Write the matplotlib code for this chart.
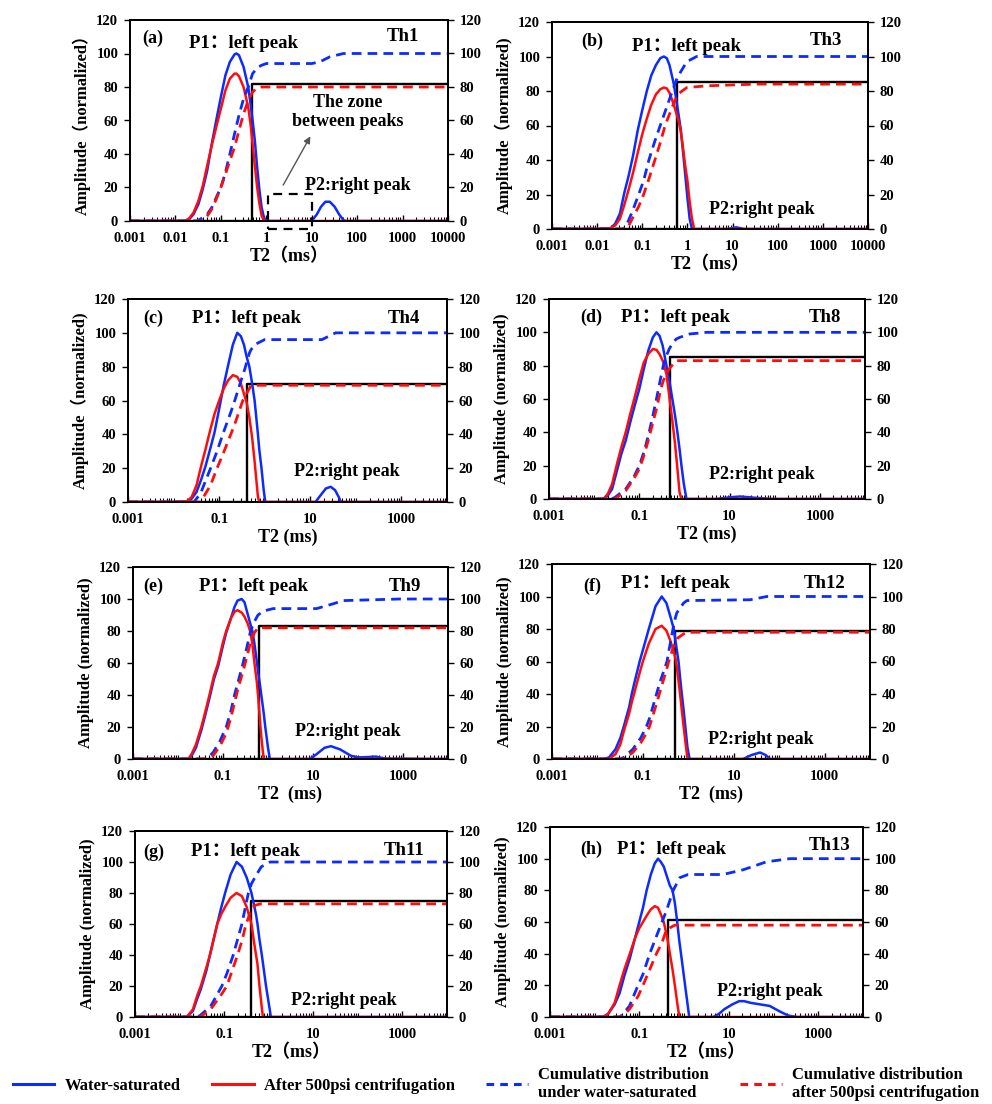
import matplotlib
matplotlib.use("Agg")
import matplotlib.pyplot as plt
from matplotlib.patches import Rectangle
from matplotlib.lines import Line2D
from matplotlib.ticker import FixedLocator, LogLocator, NullFormatter

plt.rcParams['font.family'] = ['Liberation Serif', 'Noto Sans CJK SC']
plt.rcParams['font.weight'] = 'bold'
plt.rcParams['axes.labelweight'] = 'bold'
plt.rcParams['xtick.labelsize'] = 10.5
plt.rcParams['ytick.labelsize'] = 10.5

BLUE = '#0b2bff'
RED = '#ff0d0d'

# ---- data: T2 (ms) and normalized amplitudes ----
# (a) Th1
A_T2 = [0.001, 0.01, 0.016, 0.02, 0.025, 0.032, 0.04, 0.05, 0.063, 0.079, 0.1, 0.126, 0.158, 0.2, 0.22,
        0.25, 0.316, 0.4, 0.45, 0.5, 0.56, 0.63, 0.71, 0.79, 0.89, 1.0,
        10, 13, 16, 20, 25, 32, 40, 50, 56, 10000]
A_WS = [0, 0, 0, 1, 4, 10, 19, 30, 46, 60, 74, 87, 95, 99.5, 100,
        99, 92, 80, 70, 60, 48, 32, 18, 8, 2, 0,
        0, 4, 8.5, 11.5, 11.5, 8.5, 4, 0.5, 0, 0]
A_CF = [0, 0, 0, 1.5, 5, 12, 21, 33, 45, 56, 67, 78, 85, 88, 88,
        86.5, 80, 68, 58, 46, 33, 20, 10, 3, 0.5, 0,
        0, 0, 0, 0, 0, 0, 0, 0, 0, 0]
A_CUM_T2 = [0.001, 0.03, 0.04, 0.05, 0.063, 0.079, 0.1, 0.126, 0.158, 0.2, 0.25, 0.316, 0.4, 0.5, 0.63, 0.79,
            1.0, 10, 15, 25, 50, 10000]
A_CUM_WS = [0, 0, 2, 4, 8, 14, 20, 29, 40, 52, 63, 73, 80, 88, 91.5, 93, 94, 94, 95, 98, 100, 100]
A_CUM_CF = [0, 0, 0, 3, 7, 13, 20, 28, 36, 44, 54, 64, 72, 77, 79.5, 80, 80, 80, 80, 80, 80, 80]

# (b) Th3
B_T2 = [0.001, 0.01, 0.02, 0.025, 0.032, 0.04, 0.05, 0.063, 0.079, 0.1, 0.126, 0.158, 0.2, 0.25, 0.3,
        0.35, 0.4, 0.5, 0.63, 0.71, 0.79, 0.89, 1.0, 1.12, 1.26, 1.41, 8, 12, 18, 10000]
B_WS = [0, 0, 0.5, 3, 9, 21, 31, 43, 57, 69, 80, 89, 95, 99, 100,
        99, 95, 84, 67, 58, 46, 32, 18, 6, 0, 0, 0, 1, 0, 0]
B_CF = [0, 0, 0.5, 2, 6, 14, 23, 33, 44, 55, 64, 72, 78, 81, 82,
        81.5, 79, 72, 63, 57, 48, 37, 28, 16, 6, 0, 0, 0, 0, 0]
B_CUM_T2 = [0.001, 0.038, 0.046, 0.06, 0.083, 0.107, 0.14, 0.19, 0.25, 0.32, 0.45, 0.6, 0.97, 1.6, 2.7, 34,
            10000]
B_CUM_WS = [0, 0, 3, 10, 20, 28, 40, 51, 60, 68, 79, 88, 97, 100, 100, 100, 100]
B_CUM_CF = [0, 0, 0, 6, 13, 20, 29, 40, 50, 60, 70, 78, 82, 82.5, 83, 84, 84]

# (c) Th4
C_T2 = [0.001, 0.01, 0.02, 0.025, 0.032, 0.04, 0.05, 0.063, 0.079, 0.1, 0.126, 0.158, 0.2, 0.25, 0.3,
        0.35, 0.4, 0.46, 0.53, 0.6, 0.71, 0.76, 0.85, 0.95, 1.03, 13, 18, 22, 28, 35, 42, 47, 10000]
C_WS = [0, 0, 0, 2, 6, 13, 21, 31, 41, 55, 69, 81, 93, 100, 98,
        93, 86, 80, 70, 60, 40, 31, 20, 7, 0, 0, 5, 8, 9, 7, 3, 0, 0]
C_CF = [0, 0, 0.5, 3, 10, 21, 31, 42, 52, 60, 67, 72, 75, 74, 70,
        64, 59, 50, 38, 24, 3, 0, 0, 0, 0, 0, 0, 0, 0, 0, 0, 0, 0]
C_CUM_T2 = [0.001, 0.028, 0.039, 0.065, 0.09, 0.12, 0.18, 0.22, 0.33, 0.36, 0.46, 0.5, 0.6, 1.0, 18, 36,
            10000]
C_CUM_WS = [0, 0, 5, 20, 30, 40, 53, 60, 75, 78, 88, 90, 93, 96, 96, 100, 100]
C_CUM_CF = [0, 0, 0, 10, 20, 28, 40, 46, 60, 62, 67, 69, 69, 69, 69, 69, 69]

# (d) Th8
D_T2 = [0.001, 0.01, 0.016, 0.02, 0.025, 0.032, 0.04, 0.05, 0.063, 0.079, 0.1, 0.126, 0.158, 0.2, 0.24,
        0.28, 0.33, 0.4, 0.47, 0.54, 0.62, 0.7, 0.78, 0.86, 0.97, 1.11, 5, 10, 17, 35, 90, 10000]
D_WS = [0, 0, 0, 2, 6, 17, 27, 35, 46, 56, 66, 78, 89, 97, 100,
        98, 92, 80, 70, 60, 50, 40, 30, 20, 9, 0, 0, 1, 1.5, 0.8, 0, 0]
D_CF = [0, 0, 0, 3, 9, 21, 31, 40, 51, 61, 72, 82, 87, 90, 89.5,
        87, 83, 75, 60, 47, 33, 18, 4, 0, 0, 0, 0, 0, 0, 0, 0, 0]
D_CUM_T2 = [0.001, 0.024, 0.029, 0.05, 0.075, 0.1, 0.13, 0.165, 0.2, 0.24, 0.3, 0.34, 0.4, 0.46, 0.56,
            0.66, 0.79, 1.3, 3.1, 10000]
D_CUM_WS = [0, 0, 1, 6, 13, 20, 29, 40, 50, 60, 73, 80, 86, 90, 94, 96, 97, 99, 100, 100]
D_CUM_CF = [0, 0, 0, 5, 12, 18, 27, 37, 46, 54, 66, 71, 75, 78, 81, 83, 83, 83, 83, 83]

# (e) Th9
E_T2 = [0.001, 0.01, 0.017, 0.02, 0.025, 0.033, 0.04, 0.05, 0.063, 0.078, 0.1, 0.118, 0.15, 0.18, 0.21,
        0.26, 0.3, 0.35, 0.4, 0.45, 0.5, 0.57, 0.6, 0.68, 0.71, 0.8, 0.87, 1.0, 1.1,
        8.5, 12, 18, 25, 40, 70, 100, 160, 250, 400, 10000]
E_WS = [0, 0, 0, 2, 7, 18, 27, 38, 50, 58, 71, 79, 88, 95, 99,
        100, 98, 91, 85, 80, 72, 60, 55, 44, 40, 29, 20, 7, 0,
        0, 3, 7, 8, 6, 2, 1, 1.2, 1.5, 0.3, 0]
E_CF = [0, 0, 0, 3, 9, 20, 29, 40, 52, 60, 73, 80, 88, 92, 93,
        91.5, 89, 85, 80, 72, 60, 47, 40, 20, 14, 0, 0, 0, 0,
        0, 0, 0, 0, 0, 0, 0, 0, 0, 0, 0]
E_CUM_T2 = [0.001, 0.043, 0.06, 0.085, 0.118, 0.15, 0.18, 0.22, 0.28, 0.34, 0.41, 0.5, 0.6, 0.8, 1.3, 12,
            28, 47, 850, 10000]
E_CUM_WS = [0, 0, 4, 11, 20, 30, 40, 49, 60, 70, 80, 86, 90, 92.5, 94, 94, 97, 99, 100, 100]
E_CUM_CF = [0, 0, 2, 8, 16, 26, 35, 45, 55, 64, 73, 79, 82, 82, 82, 82, 82, 82, 82, 82]

# (f) Th12
F_T2 = [0.001, 0.01, 0.014, 0.018, 0.025, 0.032, 0.038, 0.05, 0.057, 0.064, 0.085, 0.1, 0.135, 0.19, 0.26,
        0.33, 0.4, 0.48, 0.54, 0.61, 0.66, 0.72, 0.79, 0.86, 0.96, 1.07, 16, 25, 38, 50, 63, 10000]
F_WS = [0, 0, 0, 1, 6, 13, 20, 32, 40, 46, 60, 67, 80, 94, 100,
        96, 88, 80, 70, 60, 50, 40, 30, 20, 7, 0, 0, 2.5, 4, 2.5, 0, 0]
F_CF = [0, 0, 0, 0, 3, 9, 17, 28, 35, 40, 53, 60, 71, 80, 82,
        79, 73, 66, 60, 48, 40, 30, 20, 11, 0, 0, 0, 0, 0, 0, 0, 0]
F_CUM_T2 = [0.001, 0.032, 0.038, 0.06, 0.09, 0.12, 0.14, 0.2, 0.23, 0.34, 0.37, 0.46, 0.52, 0.56, 0.79,
            0.93, 23, 54, 10000]
F_CUM_WS = [0, 0, 1, 6, 13, 20, 25, 40, 46, 60, 66, 80, 87, 90, 96, 97.5, 98, 100, 100]
F_CUM_CF = [0, 0, 0, 4, 10, 16, 20, 34, 40, 56, 60, 68, 72, 74, 77, 78, 78, 78, 78]

# (g) Th11
G_T2 = [0.001, 0.01, 0.0145, 0.02, 0.025, 0.03, 0.04, 0.048, 0.058, 0.07, 0.085, 0.105, 0.14, 0.19, 0.25,
        0.32, 0.41, 0.47, 0.52, 0.56, 0.62, 0.7, 0.74, 0.87, 1.0, 1.12, 10000]
G_WS = [0, 0, 0, 4, 12, 18, 30, 40, 50, 60, 70, 80, 92, 100, 97,
        90, 80, 72, 66, 60, 50, 40, 35, 20, 9, 0, 0]
G_CF = [0, 0, 0, 5, 14, 20, 32, 40, 50, 60, 66, 71, 77, 80, 78,
        71, 60, 48, 40, 34, 20, 6, 0, 0, 0, 0, 0]
G_CUM_T2 = [0.001, 0.024, 0.029, 0.05, 0.089, 0.115, 0.16, 0.2, 0.25, 0.31, 0.35, 0.41, 0.49, 0.65, 0.69,
            1.07, 10000]
G_CUM_WS = [0, 0, 1, 7, 20, 28, 40, 50, 60, 73, 80, 86, 90, 96, 97, 100, 100]
G_CUM_CF = [0, 0, 0, 5, 15, 20, 32, 40, 49, 60, 64, 70, 72, 73, 73, 73, 73]

# (h) Th13
H_T2 = [0.001, 0.01, 0.0155, 0.02, 0.028, 0.036, 0.046, 0.061, 0.08, 0.099, 0.12, 0.145, 0.18, 0.22, 0.26,
        0.3, 0.35, 0.42, 0.48, 0.55, 0.62, 0.7, 0.78, 0.85, 1.05, 1.3,
        4.5, 6, 8, 12, 17, 22, 30, 49, 82, 110, 149, 210, 324, 10000]
H_WS = [0, 0, 0, 2, 8, 15, 26, 37, 50, 60, 69, 80, 90, 97, 100,
        98, 95, 88, 83, 80, 72, 60, 48, 40, 20, 0,
        0, 2, 5, 8, 10, 10, 9, 8, 7, 5, 3, 1, 0, 0]
H_CF = [0, 0, 0, 2, 9, 20, 30, 40, 50, 56, 60, 64, 68, 70, 69,
        65, 60, 50, 40, 30, 20, 9, 0, 0, 0, 0,
        0, 0, 0, 0, 0, 0, 0, 0, 0, 0, 0, 0, 0, 0]
H_CUM_T2 = [0.001, 0.036, 0.04, 0.06, 0.093, 0.12, 0.17, 0.24, 0.32, 0.4, 0.57, 0.62, 0.8, 1.23, 7.4, 21,
            69, 230, 10000]
H_CUM_WS = [0, 0, 1, 7, 20, 27, 40, 51, 60, 67, 80, 82, 88, 90, 90, 93, 98, 100, 100]
H_CUM_CF = [0, 0, 0, 5, 13, 20, 30, 40, 47, 55, 57.5, 58, 58, 58, 58, 58, 58, 58, 58]

# T2 cutoff (ms) and its cumulative level (black step line)
CUTOFFS = [0.49, 0.60, 0.40, 0.49, 0.62, 0.50, 0.40, 0.43]
LEVELS = [82, 85, 70, 85, 83, 79, 75, 61]

LETTERS = ['(a)', '(b)', '(c)', '(d)', '(e)', '(f)', '(g)', '(h)']
SAMPLES = ['Th1', 'Th3', 'Th4', 'Th8', 'Th9', 'Th12', 'Th11', 'Th13']
YLABELS = ['Amplitude（normalized）', 'Amplitude（normalized)', 'Amplitude（normalized)',
           'Amplitude (normalized)', 'Amplitude (normalized)', 'Amplitude (normalized)',
           'Amplitude (normalized)', 'Amplitude (normalized)']
XLABELS = ['T2（ms）', 'T2（ms）', 'T2 (ms)', 'T2 (ms)', 'T2  (ms)', 'T2  (ms)', 'T2（ms）', 'T2（ms）']

WIDE_TICKS = [0.001, 0.01, 0.1, 1, 10, 100, 1000, 10000]
WIDE_LABELS = ['0.001', '0.01', '0.1', '1', '10', '100', '1000', '10000']
NARROW_TICKS = [0.001, 0.1, 10, 1000]
NARROW_LABELS = ['0.001', '0.1', '10', '1000']

SERIES = [
    (A_T2, A_WS, A_CF, A_CUM_T2, A_CUM_WS, A_CUM_CF),
    (B_T2, B_WS, B_CF, B_CUM_T2, B_CUM_WS, B_CUM_CF),
    (C_T2, C_WS, C_CF, C_CUM_T2, C_CUM_WS, C_CUM_CF),
    (D_T2, D_WS, D_CF, D_CUM_T2, D_CUM_WS, D_CUM_CF),
    (E_T2, E_WS, E_CF, E_CUM_T2, E_CUM_WS, E_CUM_CF),
    (F_T2, F_WS, F_CF, F_CUM_T2, F_CUM_WS, F_CUM_CF),
    (G_T2, G_WS, G_CF, G_CUM_T2, G_CUM_WS, G_CUM_CF),
    (H_T2, H_WS, H_CF, H_CUM_T2, H_CUM_WS, H_CUM_CF),
]

# ---- layout: axes boxes in pixels (left, top, right, bottom) and label spots ----
FIG_W, FIG_H = 992, 1104
BOXES = [(130, 20, 448, 221), (552, 22, 868, 229),
         (128, 299, 447, 502), (549, 299, 865, 499),
         (133, 567, 448, 759), (552, 564, 870, 759),
         (135, 831, 447, 1017), (550, 827, 863, 1017)]
# (letter, P1, sample, P2) positions as (T2, y)
TEXT_POS = [
    ((0.0032, 109), (0.32, 106), (1000, 110), (105, 21)),
    ((0.0076, 109), (0.97, 106), (1200, 109), (44, 11.5)),
    ((0.0035, 108.6), (0.40, 108.6), (1120, 108.6), (63, 18)),
    ((0.0087, 109), (0.62, 109), (1290, 109), (51, 15)),
    ((0.0028, 108), (0.47, 108), (1100, 108), (60, 17)),
    ((0.0076, 106), (0.51, 108), (1020, 108), (40, 12)),
    ((0.0026, 106.5), (0.30, 106.5), (1070, 107.6), (48, 10.8)),
    ((0.0085, 106), (0.52, 106), (1780, 108.5), (81, 16.3)),
]


def style_axis(ax, wide):
    ax.set_xscale('log')
    ax.set_xlim(0.001, 10000)
    ax.set_ylim(0, 120)
    ax.set_yticks([0, 20, 40, 60, 80, 100, 120])
    if wide:
        ax.xaxis.set_major_locator(FixedLocator(WIDE_TICKS))
        ax.set_xticklabels(WIDE_LABELS)
    else:
        ax.xaxis.set_major_locator(FixedLocator(NARROW_TICKS))
        ax.set_xticklabels(NARROW_LABELS)
    ax.xaxis.set_minor_locator(LogLocator(base=10, subs=(1, 2, 3, 4, 5, 6, 7, 8, 9), numticks=20))
    ax.xaxis.set_minor_formatter(NullFormatter())
    ax.tick_params(axis='x', which='major', direction='in', length=4, width=1, pad=8)
    ax.tick_params(axis='x', which='minor', direction='in', length=3, width=0.8)
    ax.tick_params(axis='y', direction='out', length=4, width=1, pad=4.5)
    for sp in ax.spines.values():
        sp.set_linewidth(1.3)


fig = plt.figure(figsize=(FIG_W / 100, FIG_H / 100), dpi=100)

for i, (t2, ws, cf, ct2, cws, ccf) in enumerate(SERIES):
    l, t, r, b = BOXES[i]
    ax = fig.add_axes([l / FIG_W, 1 - b / FIG_H, (r - l) / FIG_W, (b - t) / FIG_H])
    style_axis(ax, wide=(i < 2))

    ax.plot([0.001, CUTOFFS[i], CUTOFFS[i], 10000], [0, 0, LEVELS[i], LEVELS[i]],
            color='black', lw=1.7, zorder=2)
    ax.plot(t2, ws, color=BLUE, lw=1.8, zorder=3, solid_joinstyle='round')
    ax.plot(t2, cf, color=RED, lw=1.8, zorder=4, solid_joinstyle='round')
    ax.plot(ct2, cws, color=BLUE, lw=2.0, dashes=(3.5, 2.2), zorder=5)
    ax.plot(ct2, ccf, color=RED, lw=2.0, dashes=(3.5, 2.2), zorder=6)

    ax.set_ylabel(YLABELS[i], fontsize=12, labelpad=4)
    ax.set_xlabel(XLABELS[i], fontsize=13, labelpad=2)

    ax2 = ax.twinx()
    ax2.set_ylim(0, 120)
    ax2.set_yticks([0, 20, 40, 60, 80, 100, 120])
    ax2.tick_params(axis='y', direction='out', length=4, width=1, pad=4.5)
    for sp in ax2.spines.values():
        sp.set_linewidth(1.3)

    p_letter, p_p1, p_sample, p_p2 = TEXT_POS[i]
    ax.text(*p_letter, LETTERS[i], fontsize=13, ha='center', va='center')
    ax.text(*p_p1, 'P1：left peak', fontsize=13.5, ha='center', va='center')
    ax.text(*p_sample, SAMPLES[i], fontsize=13.5, ha='center', va='center')
    ax.text(*p_p2, 'P2:right peak', fontsize=13, ha='center', va='center', zorder=7)

    if i == 0:
        # the zone between the two peaks
        ax.add_patch(Rectangle((1.1, -5), 10 - 1.1, 21, fill=False, edgecolor='black',
                               lw=1.6, linestyle=(0, (4, 3)), clip_on=False, zorder=8))
        ax.annotate('', xy=(10, 52), xytext=(2.2, 20),
                    arrowprops=dict(arrowstyle='-|>', color='#555555', lw=1, mutation_scale=10))
        ax.text(63, 65, 'The zone\nbetween peaks', fontsize=13, ha='center', va='center',
                linespacing=1.1)

handles = [Line2D([], [], color=BLUE, lw=2.2),
           Line2D([], [], color=RED, lw=2.2),
           Line2D([], [], color=BLUE, lw=2.2, dashes=(2.5, 2)),
           Line2D([], [], color=RED, lw=2.2, dashes=(2.5, 2))]
labels = ['Water-saturated', 'After 500psi centrifugation',
          'Cumulative distribution\nunder water-saturated',
          'Cumulative distribution\nafter 500psi centrifugation']
fig.legend(handles, labels, loc='center', bbox_to_anchor=(0.5, 0.018), ncol=4, frameon=False,
           fontsize=12, handlelength=2.5, handletextpad=0.6, columnspacing=1.9,
           borderaxespad=0, borderpad=0)

fig.savefig('out.png', dpi=100)
